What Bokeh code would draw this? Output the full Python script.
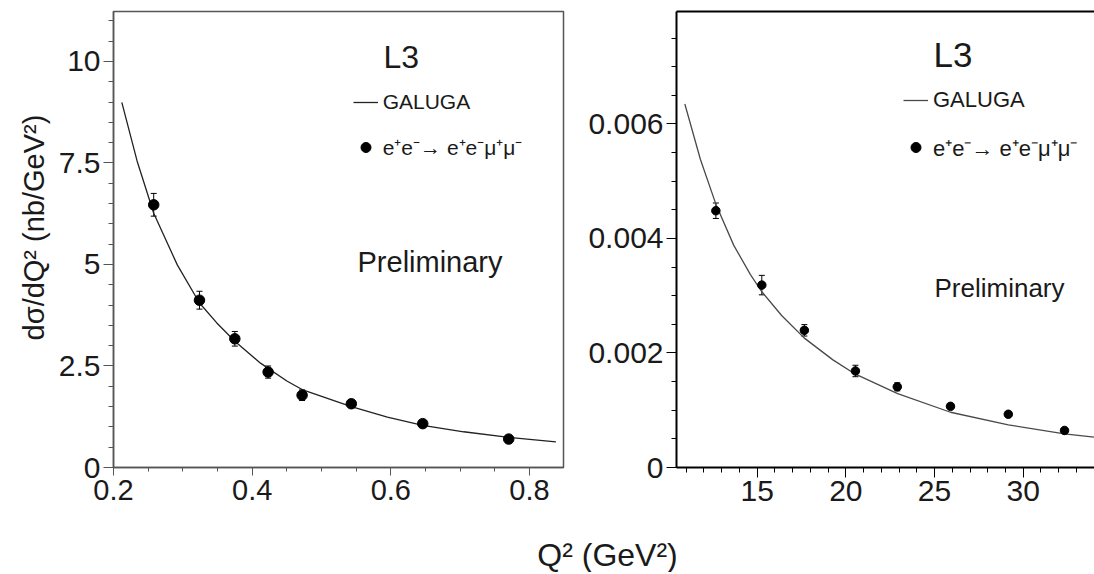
import math
from bokeh.plotting import figure
from bokeh.models import (ColumnDataSource, FixedTicker, CustomJSTickFormatter, Label,
                          Legend, LegendItem, Whisker, TeeHead, LinearAxis, Range1d)
from bokeh.layouts import row, column
from bokeh.embed import file_html
from bokeh.resources import INLINE

FONT = "Liberation Sans"
TXT = "#1a1a1a"

# ---------------- data: left panel (low Q^2) ----------------
q2_low = [0.258, 0.324, 0.375, 0.423, 0.472, 0.543, 0.646, 0.770]
xsec_low = [6.47, 4.12, 3.17, 2.35, 1.78, 1.57, 1.08, 0.70]
err_low = [0.28, 0.22, 0.18, 0.15, 0.13, 0.07, 0.06, 0.05]
galuga_q2_low = [0.212, 0.234, 0.258, 0.292, 0.324, 0.349, 0.375, 0.412,
                 0.450, 0.472, 0.543, 0.595, 0.646, 0.705, 0.770, 0.838]
galuga_low = [8.99, 7.55, 6.26, 4.99, 4.05, 3.56, 3.11, 2.57,
              2.13, 1.92, 1.50, 1.24, 1.04, 0.88, 0.74, 0.63]

# ---------------- data: right panel (high Q^2) ----------------
q2_high = [12.67, 15.26, 17.66, 20.54, 22.90, 25.90, 29.16, 32.33]
xsec_high = [0.004485, 0.003186, 0.002396, 0.001686, 0.001409, 0.001068, 0.000930, 0.000647]
err_high = [0.000135, 0.00017, 0.00010, 0.00010, 0.00007, 0.00003, 0.00003, 0.00003]
galuga_q2_high = [10.92, 11.80, 12.67, 13.68, 14.62, 15.26, 16.39, 17.66,
                  19.27, 20.54, 22.92, 25.90, 29.16, 32.33, 33.99]
galuga_high = [0.00635, 0.00538, 0.00460, 0.00388, 0.00337, 0.00307, 0.00265, 0.00226,
               0.00188, 0.00163, 0.00129, 0.000965, 0.000745, 0.000589, 0.000532]

# tick definitions
low_xticks = [0.2, 0.4, 0.6, 0.8]
low_yticks = [0, 2.5, 5, 7.5, 10]
high_xticks = [15, 20, 25, 30]
high_yticks = [0, 0.002, 0.004, 0.006]

legend_labels = ["GALUGA", "e\u207ae\u207b\u2192 e\u207ae\u207b\u03bc\u207a\u03bc\u207b"]
y_title = "d\u03c3/dQ\u00b2 (nb/GeV\u00b2)"
x_title = "Q\u00b2 (GeV\u00b2)"


def style_axis(ax, color, width, tick_out, minor_out, standoff, size="30px"):
    ax.axis_line_color = color
    ax.axis_line_width = width
    ax.major_tick_line_color = color
    ax.minor_tick_line_color = color
    ax.major_tick_line_width = 1
    ax.minor_tick_line_width = 1
    ax.major_tick_out = tick_out
    ax.major_tick_in = 0
    ax.minor_tick_out = minor_out
    ax.minor_tick_in = 0
    ax.major_label_standoff = standoff
    ax.major_label_text_font = FONT
    ax.major_label_text_font_size = size
    ax.major_label_text_color = TXT


def blank_fig(w, h):
    f = figure(width=w, height=h, output_backend="svg", toolbar_location=None,
               x_axis_location=None, y_axis_location=None, min_border=0,
               x_range=Range1d(0, 1), y_range=Range1d(0, 1))
    f.outline_line_color = None
    f.grid.visible = False
    return f


ROW_H = 520

# ================= y-title strip =================
py = blank_fig(53, ROW_H)
py.add_layout(Label(x=33, y=240, x_units="screen", y_units="screen",
                    text=y_title, angle=math.pi / 2,
                    text_font=FONT, text_font_size="29px", text_color=TXT,
                    text_align="center", text_baseline="middle"))

# ================= left figure =================
p1 = figure(width=512, height=ROW_H, output_backend="svg", toolbar_location=None,
            x_range=Range1d(0.2, 0.849), y_range=Range1d(0, 11.23),
            min_border_left=60, min_border_right=2, min_border_top=9, min_border_bottom=53)
p1.grid.visible = False
p1.outline_line_color = "#555555"
p1.outline_line_width = 1.5
p1.xaxis.ticker = FixedTicker(ticks=low_xticks,
                              minor_ticks=[0.25, 0.3, 0.35, 0.45, 0.5, 0.55, 0.65, 0.7, 0.75])
p1.yaxis.ticker = FixedTicker(ticks=low_yticks, minor_ticks=[i * 0.5 for i in range(23)])
p1.xaxis.formatter = CustomJSTickFormatter(code="return String(tick);")
p1.yaxis.formatter = CustomJSTickFormatter(code="return String(tick);")
style_axis(p1.xaxis[0], "#555555", 1.5, 8, 4, 4, "29px")
style_axis(p1.yaxis[0], "#555555", 1.5, 10, 5, 3, "30px")

src_low = ColumnDataSource(dict(x=q2_low, y=xsec_low,
                                up=[v + e for v, e in zip(xsec_low, err_low)],
                                lo=[v - e for v, e in zip(xsec_low, err_low)]))
g_low = p1.line(galuga_q2_low, galuga_low, line_color="#222222", line_width=1.3)
p1.add_layout(Whisker(source=src_low, base="x", upper="up", lower="lo",
                      line_color="black", line_width=1,
                      upper_head=TeeHead(size=6, line_color="black", line_width=1),
                      lower_head=TeeHead(size=6, line_color="black", line_width=1)))
d_low = p1.scatter("x", "y", source=src_low, size=10.5, color="black")

leg1 = Legend(items=[LegendItem(label=legend_labels[0], renderers=[g_low]),
                     LegendItem(label=legend_labels[1], renderers=[d_low])],
              location=(239.7, 306.5), border_line_color=None, background_fill_alpha=0,
              padding=0, margin=0, spacing=18, glyph_width=25, glyph_height=26,
              label_height=26, label_standoff=5, label_text_font=FONT,
              label_text_font_size="21px", label_text_color=TXT)
p1.add_layout(leg1)

p1.add_layout(Label(x=270, y=410.5, x_units="screen", y_units="screen", text="L3",
                    text_font=FONT, text_font_size="32px", text_color=TXT,
                    text_baseline="middle"))
p1.add_layout(Label(x=244, y=205.5, x_units="screen", y_units="screen", text="Preliminary",
                    text_font=FONT, text_font_size="29px", text_color=TXT,
                    text_baseline="middle"))

# ================= right figure =================
p2 = figure(width=529, height=ROW_H, output_backend="svg", toolbar_location=None,
            x_range=Range1d(10.45, 34.02), y_range=Range1d(0, 0.007965),
            min_border_left=111, min_border_right=0, min_border_top=11, min_border_bottom=49)
p2.grid.visible = False
p2.outline_line_color = None
p2.xaxis.ticker = FixedTicker(ticks=high_xticks, minor_ticks=list(range(11, 35)))
p2.yaxis.ticker = FixedTicker(ticks=high_yticks, minor_ticks=[i * 0.0005 for i in range(16)])
p2.xaxis.formatter = CustomJSTickFormatter(code="return String(tick);")
p2.yaxis.formatter = CustomJSTickFormatter(
    code="return tick == 0 ? '0' : tick.toFixed(3);")
style_axis(p2.xaxis[0], "black", 2, 10, 5, 3, "30px")
style_axis(p2.yaxis[0], "black", 2, 10, 5, 3, "30px")

top_axis = LinearAxis(ticker=FixedTicker(ticks=[]), major_label_text_font_size="0px",
                      major_tick_out=0, major_tick_in=0, minor_tick_out=0, minor_tick_in=0,
                      major_label_standoff=0, axis_line_color="black", axis_line_width=2)
p2.add_layout(top_axis, "above")

src_high = ColumnDataSource(dict(x=q2_high, y=xsec_high,
                                 up=[v + e for v, e in zip(xsec_high, err_high)],
                                 lo=[v - e for v, e in zip(xsec_high, err_high)]))
g_high = p2.line(galuga_q2_high, galuga_high, line_color="#4a4a4a", line_width=1.3)
p2.add_layout(Whisker(source=src_high, base="x", upper="up", lower="lo",
                      line_color="black", line_width=1,
                      upper_head=TeeHead(size=6, line_color="black", line_width=1),
                      lower_head=TeeHead(size=6, line_color="black", line_width=1)))
d_high = p2.scatter("x", "y", source=src_high, size=8.5, color="black")

leg2 = Legend(items=[LegendItem(label=legend_labels[0], renderers=[g_high]),
                     LegendItem(label=legend_labels[1], renderers=[d_high])],
              location=(227, 305.5), border_line_color=None, background_fill_alpha=0,
              padding=0, margin=0, spacing=18, glyph_width=25, glyph_height=28,
              label_height=28, label_standoff=5, label_text_font=FONT,
              label_text_font_size="22px", label_text_color=TXT)
p2.add_layout(leg2)

p2.add_layout(Label(x=257, y=413.5, x_units="screen", y_units="screen", text="L3",
                    text_font=FONT, text_font_size="35px", text_color=TXT,
                    text_baseline="middle"))
p2.add_layout(Label(x=258, y=180, x_units="screen", y_units="screen", text="Preliminary",
                    text_font=FONT, text_font_size="26px", text_color=TXT,
                    text_baseline="middle"))

# ================= shared x-axis title =================
p3 = blank_fig(1094, 52)
p3.add_layout(Label(x=607, y=18, x_units="screen", y_units="screen",
                    text=x_title, text_font=FONT, text_font_size="32px",
                    text_color=TXT, text_align="center", text_baseline="middle"))

layout = column(row(py, p1, p2, spacing=0), p3, spacing=0)
open("out.html", "w").write(file_html(layout, INLINE))
